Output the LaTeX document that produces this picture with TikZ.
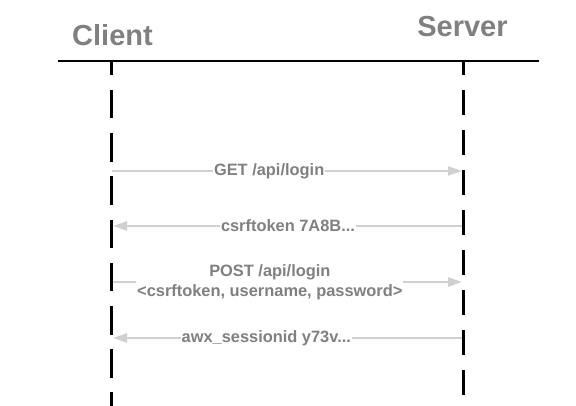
\documentclass[tikz,border=0pt]{standalone}
\usepackage{fontspec}
\setmainfont{Liberation Sans}
\usetikzlibrary{arrows.meta}
\definecolor{txtgray}{HTML}{808080}
\definecolor{arrgray}{HTML}{D0D0D0}
\begin{document}
\begin{tikzpicture}[x=1pt,y=-1pt,
  title/.style={font=\fontsize{29}{35}\selectfont\bfseries, text=txtgray, inner sep=0pt, anchor=base},
  msglabel/.style={font=\fontsize{16.4}{20}\selectfont\bfseries, text=txtgray, fill=white, inner sep=1pt, align=center},
  msg/.style={draw=arrgray, line width=2.5pt, -{Triangle[length=14pt,width=9pt]}},
  lifeline/.style={draw=black, line width=3pt},
  ]
\useasboundingbox (0,0) rectangle (576,406);
% titles
\node[title] (client) at (112.5,46) {Client};
\node[title] (server) at (462.5,37) {Server};
% header rule
\coordinate (bl) at (58,61);
\coordinate (br) at (539,61);
\draw[line width=2.5pt] (bl) -- (br);
% lifeline ends
\coordinate (ctop) at (111,61);
\coordinate (cbot) at (111,406);
\coordinate (stop) at (463,61);
\coordinate (sbot) at (463,406);
% message end points
\coordinate (c1) at (112,171);
\coordinate (s1) at (462,171);
\coordinate (s2) at (463,226);
\coordinate (c2) at (113,226);
\coordinate (c3) at (112,282);
\coordinate (s3) at (462,282);
\coordinate (s4) at (463,338);
\coordinate (c4) at (113,338);
% messages
\draw[msg] (c1) -- node[msglabel, pos=0.449] (m1) {GET /api/login} (s1);
\draw[msg] (s2) -- node[msglabel, pos=0.5] (m2) {csrftoken 7A8B...} (c2);
\draw[msg] (c3) -- node[msglabel, pos=0.451] (m3) {POST /api/login\\\textless csrftoken, username, password\textgreater} (s3);
\draw[msg] (s4) -- node[msglabel, pos=0.562] (m4) {awx\_sessionid y73v...} (c4);
% lifelines
\draw[lifeline, dash pattern=on 28.5pt off 14.7pt, dash phase=14.2pt] (ctop) -- (cbot);
\draw[lifeline, dash pattern=on 25pt off 15pt, dash phase=11pt] (stop) -- (sbot);
\end{tikzpicture}
\end{document}
